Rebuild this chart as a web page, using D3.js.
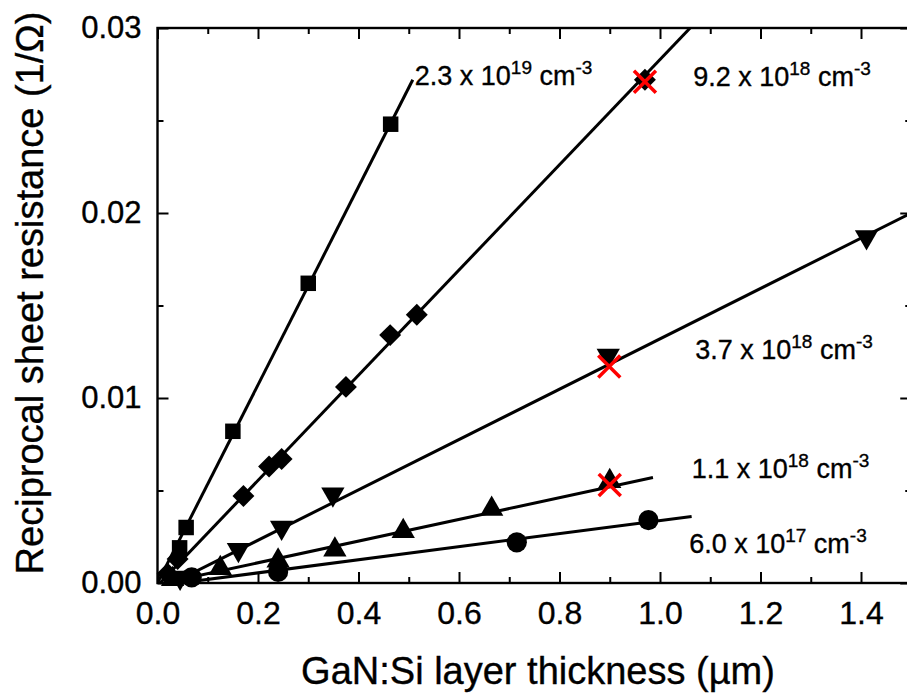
<!DOCTYPE html>
<html lang="en">
  <head>
    <title>Reciprocal sheet resistance vs GaN:Si thickness</title>
    <meta charset="utf-8">
    <style>
      body { margin: 0; background: #ffffff; }
      text { font-family: "Liberation Sans", Arial, Helvetica, sans-serif; fill: #000000; stroke: #000000; stroke-width: 0.35px; }
    </style>
    <script type="text/javascript" src="https://cdn.jsdelivr.net/npm/d3@7/dist/d3.min.js"></script>
  </head>
  <body>
    <div id="container"></div>

    <script type="text/javascript">
      //-------------------------DATA-------------------------|
      // 2.3e19 cm-3 (squares)
      var sqX = [0.044, 0.057, 0.150, 0.300, 0.464];
      var sqY = [0.0019, 0.0030, 0.0082, 0.0162, 0.0248];
      // 9.2e18 cm-3 (diamonds)
      var diX = [0.020, 0.040, 0.171, 0.222, 0.247, 0.375, 0.463, 0.516, 0.970];
      var diY = [0.0005, 0.0013, 0.0047, 0.0063, 0.0067, 0.0106, 0.0134, 0.0145, 0.0272];
      // 3.7e18 cm-3 (down triangles)
      var dtX = [0.045, 0.161, 0.247, 0.349, 0.897, 1.411];
      var dtY = [0.0003, 0.0018, 0.0030, 0.0048, 0.0123, 0.0187];
      // 1.1e18 cm-3 (up triangles)
      var utX = [0.030, 0.125, 0.240, 0.353, 0.489, 0.665, 0.900];
      var utY = [0.0002, 0.0008, 0.0012, 0.0018, 0.0028, 0.0040, 0.0055];
      // 6.0e17 cm-3 (circles)
      var ciX = [0.068, 0.240, 0.715, 0.977];
      var ciY = [0.0003, 0.0006, 0.0022, 0.0034];
      // red crosses
      var crX = [0.970, 0.899, 0.900];
      var crY = [0.0271, 0.0117, 0.0053];

      // fitted lines, end points
      var fitX0 = [0.000, 0.005, 0.030, 0.013, 0.045];
      var fitY0 = [0.0000, 0.0000, 0.0000, 0.0000, 0.0000];
      var fitX1 = [0.508, 1.060, 1.500, 0.986, 1.063];
      var fitY1 = [0.0272, 0.0300, 0.0200, 0.0057, 0.0036];

      var mantissa = ['2.3', '9.2', '3.7', '1.1', '6.0'];
      var exponent = ['19', '18', '18', '18', '17'];

      var xMajor = [0, 0.2, 0.4, 0.6, 0.8, 1.0, 1.2, 1.4];
      var xMinor = [0.1, 0.3, 0.5, 0.7, 0.9, 1.1, 1.3, 1.5];
      var xLabels = ['0.0', '0.2', '0.4', '0.6', '0.8', '1.0', '1.2', '1.4'];
      var yMajor = [0, 0.01, 0.02, 0.03];
      var yMinor = [0.005, 0.015, 0.025];
      var yLabels = ['0.00', '0.01', '0.02', '0.03'];

      //-------------------------SETTING SVG-------------------------|
      var width = 907;
      var height = 698;
      var plotL = 157.5, plotR = 911.25, plotT = 28, plotB = 583;

      var svg = d3.select("#container").append("svg")
                  .attr("width", width)
                  .attr("height", height);

      var x = d3.scaleLinear().domain([0, 1.5]).range([plotL, plotR]);
      var y = d3.scaleLinear().domain([0, 0.03]).range([plotB, plotT]);

      svg.append("clipPath").attr("id", "plotclip")
         .append("rect")
         .attr("x", plotL).attr("y", plotT)
         .attr("width", plotR - plotL).attr("height", plotB - plotT);

      //-------------------------AXES-------------------------|
      function styleAxis(g) {
        g.select(".domain").remove();
        g.selectAll(".tick line").attr("stroke", "#000").attr("stroke-width", 2);
      }

      // bottom
      svg.append("g").attr("transform", "translate(0," + plotB + ")")
         .call(d3.axisBottom(x).tickValues(xMajor).tickSize(-11).tickPadding(18)
               .tickFormat(function(d, i) { return xLabels[i]; }))
         .call(styleAxis)
         .selectAll("text").attr("font-size", "32px").attr("fill", "#000");
      svg.append("g").attr("transform", "translate(0," + plotB + ")")
         .call(d3.axisBottom(x).tickValues(xMinor).tickSize(-6).tickFormat(""))
         .call(styleAxis);

      // top
      svg.append("g").attr("transform", "translate(0," + plotT + ")")
         .call(d3.axisTop(x).tickValues(xMajor).tickSize(-11).tickFormat(""))
         .call(styleAxis);
      svg.append("g").attr("transform", "translate(0," + plotT + ")")
         .call(d3.axisTop(x).tickValues(xMinor).tickSize(-6).tickFormat(""))
         .call(styleAxis);

      // left
      svg.append("g").attr("transform", "translate(" + plotL + ",0)")
         .call(d3.axisLeft(y).tickValues(yMajor).tickSize(-11).tickPadding(16)
               .tickFormat(function(d, i) { return yLabels[i]; }))
         .call(styleAxis)
         .selectAll("text").attr("font-size", "31px").attr("fill", "#000");
      svg.append("g").attr("transform", "translate(" + plotL + ",0)")
         .call(d3.axisLeft(y).tickValues(yMinor).tickSize(-6).tickFormat(""))
         .call(styleAxis);

      // right
      svg.append("g").attr("transform", "translate(" + plotR + ",0)")
         .call(d3.axisRight(y).tickValues(yMajor).tickSize(-11).tickFormat(""))
         .call(styleAxis);
      svg.append("g").attr("transform", "translate(" + plotR + ",0)")
         .call(d3.axisRight(y).tickValues(yMinor).tickSize(-6).tickFormat(""))
         .call(styleAxis);

      // frame
      svg.append("rect")
         .attr("x", plotL).attr("y", plotT)
         .attr("width", plotR - plotL).attr("height", plotB - plotT)
         .attr("fill", "none").attr("stroke", "#000").attr("stroke-width", 2.4);

      //-------------------------FIT LINES-------------------------|
      var lines = svg.append("g").attr("clip-path", "url(#plotclip)");
      fitX0.forEach(function(d, i) {
        lines.append("line")
             .attr("x1", x(fitX0[i])).attr("y1", y(fitY0[i]))
             .attr("x2", x(fitX1[i])).attr("y2", y(fitY1[i]))
             .attr("stroke", "#000").attr("stroke-width", 3);
      });

      //-------------------------MARKERS-------------------------|
      var marks = svg.append("g");
      function drawSeries(xs, ys, type, size, rot) {
        marks.selectAll(null).data(xs).enter().append("path")
             .attr("d", d3.symbol().type(type).size(size))
             .attr("transform", function(d, i) {
               return "translate(" + x(xs[i]) + "," + y(ys[i]) + ") rotate(" + rot + ")";
             })
             .attr("fill", "#000");
      }
      drawSeries(ciX, ciY, d3.symbolCircle, 320, 0);
      drawSeries(utX, utY, d3.symbolTriangle, 235, 0);
      drawSeries(dtX, dtY, d3.symbolTriangle, 235, 180);
      drawSeries(diX, diY, d3.symbolSquare, 240, 45);
      drawSeries(sqX, sqY, d3.symbolSquare, 240, 0);

      // red crosses
      marks.selectAll(null).data(crX).enter().append("path")
           .attr("d", "M-11,-11L11,11M-11,11L11,-11")
           .attr("transform", function(d, i) { return "translate(" + x(crX[i]) + "," + y(crY[i]) + ")"; })
           .attr("stroke", "#ff0000").attr("stroke-width", 3.5).attr("fill", "none");

      //-------------------------LABELS-------------------------|
      var labelPos = [[0.512, 0.02692], [1.066, 0.02686], [1.070, 0.01211], [1.063, 0.00569], [1.058, 0.00164]];
      mantissa.forEach(function(m, i) {
        var t = svg.append("text")
                   .attr("font-size", "27px")
                   .attr("transform", "translate(" + x(labelPos[i][0]) + "," + y(labelPos[i][1]) + ")");
        t.append("tspan").text(m + " x 10");
        t.append("tspan").attr("font-size", "19px").attr("dy", -11).text(exponent[i]);
        t.append("tspan").attr("dy", 11).text(" cm");
        t.append("tspan").attr("font-size", "19px").attr("dy", -11).text("-3");
      });

      //-------------------------AXIS TITLES-------------------------|
      svg.append("text")
         .attr("font-size", "38px")
         .attr("text-anchor", "middle")
         .attr("transform", "translate(538,684)")
         .text("GaN:Si layer thickness (\u00b5m)");

      svg.append("text")
         .attr("font-size", "38px")
         .attr("text-anchor", "middle")
         .attr("transform", "translate(43,293) rotate(-90)")
         .text("Reciprocal sheet resistance (1/\u03a9)");
    </script>
  </body>
</html>
